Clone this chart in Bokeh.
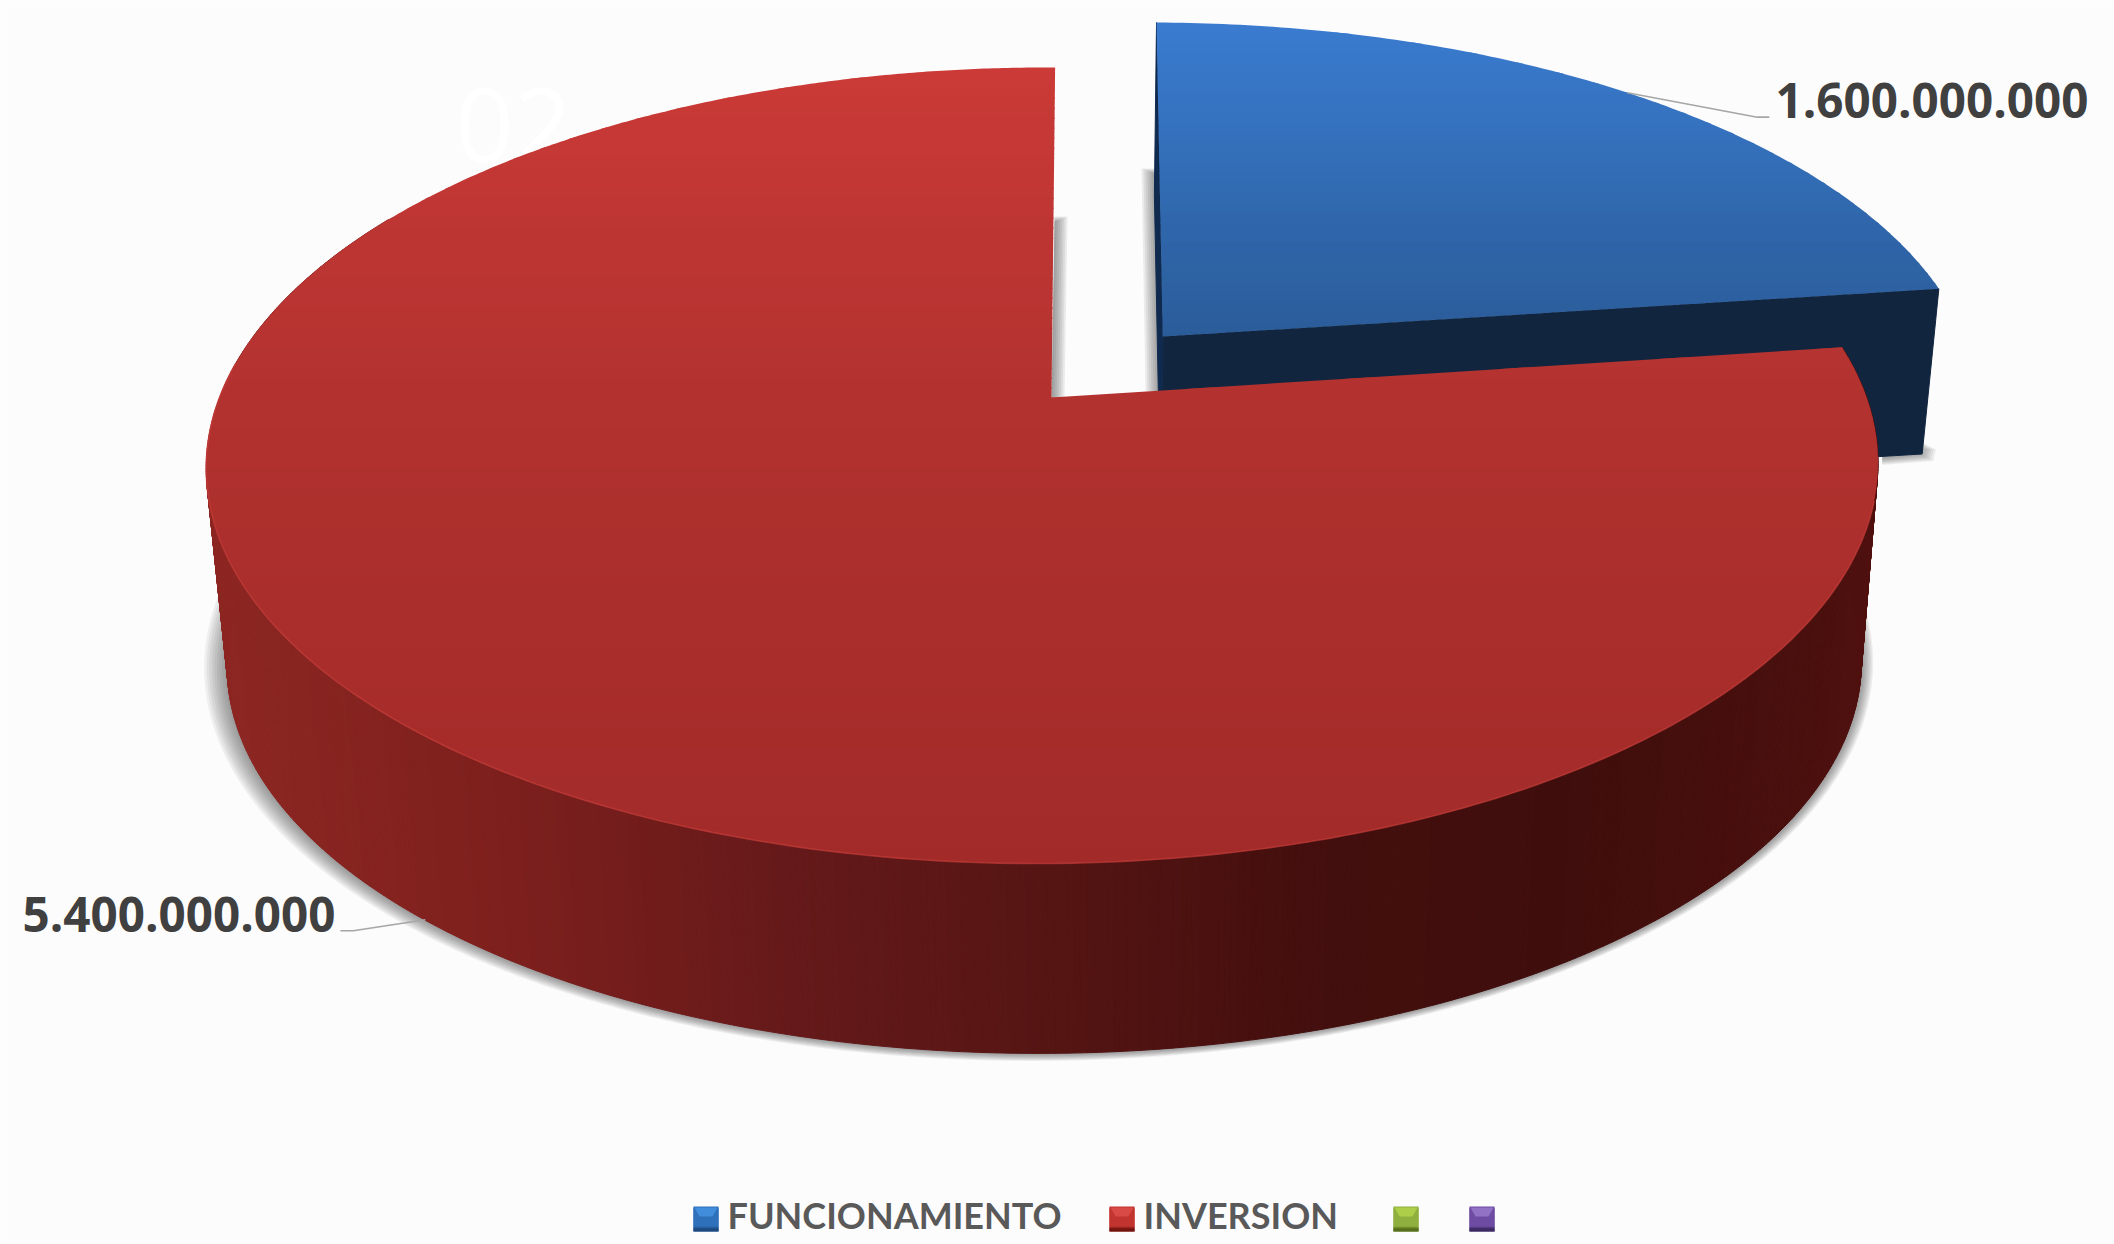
import numpy as np
from bokeh.plotting import figure
from bokeh.core.properties import value
from bokeh.embed import file_html
from bokeh.resources import INLINE

# ---- data
categories = ["FUNCIONAMIENTO", "INVERSION", "", ""]
amounts = [1600000000, 5400000000, 0, 0]
amount_labels = ["1.600.000.000", "5.400.000.000"]
watermark = "02"

BG = "#fdfcfd"
W, H = 2114, 1244
p = figure(width=W, height=H, x_range=(0, W), y_range=(H, 0),
           x_axis_type=None, y_axis_type=None, toolbar_location=None,
           output_backend="svg", min_border=0, outline_line_color=None,
           background_fill_color=BG, border_fill_color=BG)
p.grid.visible = False


def hex2rgb(c):
    return np.array([int(c[i:i + 2], 16) for i in (1, 3, 5)], float)


def ramp(stops, t):
    ts = [s[0] for s in stops]
    cs = np.array([hex2rgb(s[1]) for s in stops])
    rgb = [np.interp(t, ts, cs[:, i]) for i in range(3)]
    return "#%02x%02x%02x" % tuple(int(round(c)) for c in rgb)


def clip_band(pts, y0, y1):
    def clip(poly, inside, cross):
        out = []
        for i in range(len(poly)):
            a, b = poly[i - 1], poly[i]
            if inside(b):
                if not inside(a):
                    out.append(cross(a, b))
                out.append(b)
            elif inside(a):
                out.append(cross(a, b))
        return out

    def at(yv):
        def f(a, b):
            t = (yv - a[1]) / (b[1] - a[1])
            return (a[0] + t * (b[0] - a[0]), yv)
        return f
    r = clip(pts, lambda q: q[1] >= y0, at(y0))
    if r:
        r = clip(r, lambda q: q[1] <= y1, at(y1))
    return r


def gradient_polygon(xs, ys, stops, step=10.0):
    pts = list(zip(xs, ys))
    lo, hi = min(ys), max(ys)
    px, py, cs = [], [], []
    y = lo
    while y < hi:
        # every band runs on under the next one, so that no seam shows
        part = clip_band(pts, y, min(y + step + 1.5, hi))
        if len(part) >= 3:
            px.append([q[0] for q in part])
            py.append([q[1] for q in part])
            cs.append(ramp(stops, y + step / 2))
        y += step
    p.patches(px, py, fill_color=cs, line_color=None)


# ---- geometry of the perspective disc: angle is clockwise from 12 o'clock
K, M = 0.1708, 0.0102


def point(theta, cx, cy, R, S, shear):
    u, v = np.sin(theta), np.cos(theta)
    w = 1 + K * v + M * u
    dy = -S * v / w
    return cx + R * u / w + shear * dy, cy + dy


RED_TOP = (1051, 397, 823.5, 386.4, -0.011)
RED_BOT = (1053, 597, 805, 378, -0.011)
BLUE_TOP = (1162.3, 336, 810, 367.6, 0.02)
BLUE_BOT = (1160, 500, 795, 358, 0.02)

total = sum(amounts)
blue_end = 2 * np.pi * amounts[0] / total
th_blue = np.linspace(0, blue_end, 120)
th_red = np.linspace(blue_end, 2 * np.pi, 720)

# ---- watermark behind the pie
p.text([455], [124], text=[watermark], text_color="#ffffff", text_font=value("Open Sans"),
       text_font_size="102px", text_baseline="alphabetic", text_align="left")


def soft_band(x0, y0, x1, y1, width, direction=1, n=7, alpha=0.09):
    for i in range(1, n + 1):
        d = direction * width * i / n
        p.patch([x0, x0 + d, x1 + d, x1], [y0 + 6 - 6 * i / n, y0 + 6 - 6 * i / n, y1, y1],
                fill_color="#404040", fill_alpha=alpha, line_color=None)


# ---- blue slice
soft_band(1155, 168, 1159, 391, 14, -1)
bx0, by0 = point(blue_end, *BLUE_BOT)
for i in range(1, 8):
    p.patch([bx0 - 40, bx0 + i * 2.0, bx0 + i * 2.0 - 3, bx0 - 40],
            [by0 - 12 + i, by0 - 12 + i, by0 + i * 1.0, by0 + 4 + i * 1.0],
            fill_color="#404040", fill_alpha=0.08, line_color=None)

ax, ay = BLUE_TOP[0], BLUE_TOP[1]
agx, agy = BLUE_BOT[0], BLUE_BOT[1]
ex, ey = point(blue_end, *BLUE_TOP)
ebx, eby = point(blue_end, *BLUE_BOT)
p.patch([ax, ex, ebx, agx], [ay, ey, eby, agy], fill_color="#11253f", line_color="#11253f", line_width=1)
tcx, tcy = point(0, *BLUE_TOP)
bcx, bcy = point(0, *BLUE_BOT)
p.patch([tcx, ax, agx, bcx], [tcy, ay, agy, bcy], fill_color="#0f2a4e", line_color="#0f2a4e", line_width=1)
bx, by = point(th_blue, *BLUE_TOP)
gradient_polygon([ax] + list(bx), [ay] + list(by),
                 [(22, "#3a7bd0"), (120, "#3572bf"), (230, "#2f66aa"), (336, "#2b5c9a")])

# ---- red slice: soft shadow, wall (front-facing part only), top
soft_band(1054, 216, 1051, 397, 13, 1)
th_shadow = th_red[th_red < np.radians(300)]
for d in range(1, 10):
    sx, sy = point(th_shadow, RED_BOT[0] - d * 0.6, RED_BOT[1], RED_BOT[2] + d * 1.9,
                   RED_BOT[3] + d * 0.7, RED_BOT[4])
    p.patch([RED_BOT[0]] + list(sx), [RED_BOT[1]] + list(sy),
            fill_color="#404040", fill_alpha=0.075, line_color=None)

wall_stops = [(228, "#8d2723"), (500, "#7e201d"), (800, "#65191a"), (1050, "#551513"),
              (1300, "#440f0e"), (1550, "#3f0e0c"), (1800, "#4a100e"), (1880, "#521210")]
tx, ty = point(th_shadow, *RED_TOP)
gx, gy = point(th_shadow, *RED_BOT)
wx, wy, wc = [], [], []
for i in range(len(th_shadow) - 1):
    wx.append([tx[i], tx[i + 1], gx[i + 1], gx[i]])
    wy.append([ty[i], ty[i + 1], gy[i + 1], gy[i]])
    wc.append(ramp(wall_stops, (gx[i] + gx[i + 1]) / 2))
p.patches(wx, wy, fill_color=wc, line_color=wc, line_width=1)

fx, fy = point(th_red, *RED_TOP)
gradient_polygon([RED_TOP[0]] + list(fx), [RED_TOP[1]] + list(fy),
                 [(67, "#cb3a36"), (250, "#bc3533"), (400, "#b2322f"), (600, "#aa2e2c"), (863, "#a22b29")])

rim = np.linspace(np.radians(105), np.radians(275), 200)
rx, ry = point(rim, *RED_TOP)
p.line(rx, ry, line_color="#c83d3b", line_alpha=0.65, line_width=1.6)

# ---- leader lines and value labels, from the middle angle of each slice
mid_blue = (0 + blue_end) / 2
mid_red = (blue_end + 2 * np.pi) / 2
lx, ly = point(mid_blue, *BLUE_TOP)
p.line([lx, lx + 130, lx + 142], [ly, ly + 24.5, ly + 24.5], line_color="#a6a6a6", line_width=1.6)
lx2, ly2 = point(mid_red, *RED_BOT)
p.line([lx2 - 12, lx2 - 84, lx2 - 97], [ly2 - 7, ly2 + 4, ly2 + 4], line_color="#a6a6a6", line_width=1.6)

p.text([1775], [100], text=[amount_labels[0]], text_color="#404040", text_font=value("Open Sans"),
       text_font_style="bold", text_font_size="47.6px", text_baseline="alphabetic", text_align="left")
p.text([22], [914], text=[amount_labels[1]], text_color="#404040", text_font=value("Open Sans"),
       text_font_style="bold", text_font_size="47.6px", text_baseline="alphabetic", text_align="left")

# ---- legend
legend_x = [693, 1109, 1393, 1469]
swatches = [("#4a97e6", "#2f70ba", "#1d4a80"), ("#e0504c", "#c23431", "#74150f"),
            ("#b5d84e", "#8fb03f", "#56701c"), ("#9f7fd0", "#6f4ca3", "#3d2a63")]
for x0, (c1, c2, c3) in zip(legend_x, swatches):
    gradient_polygon([x0, x0 + 25, x0 + 25, x0], [1206, 1206, 1231, 1231],
                     [(1206, c2), (1226, c2), (1228, c3), (1231, c3)], step=1.0)
    p.patch([x0 + 1, x0 + 24, x0 + 19, x0 + 6], [1207, 1207, 1216, 1216],
            fill_color=c1, fill_alpha=0.75, line_color=None)
p.text([727, 1143], [1214, 1214], text=categories[:2], text_color="#595959",
       text_font=value("Lato"), text_font_style="bold", text_font_size="36px",
       text_baseline="alphabetic", text_align="left")

open("out.html", "w").write(file_html(p, INLINE))
